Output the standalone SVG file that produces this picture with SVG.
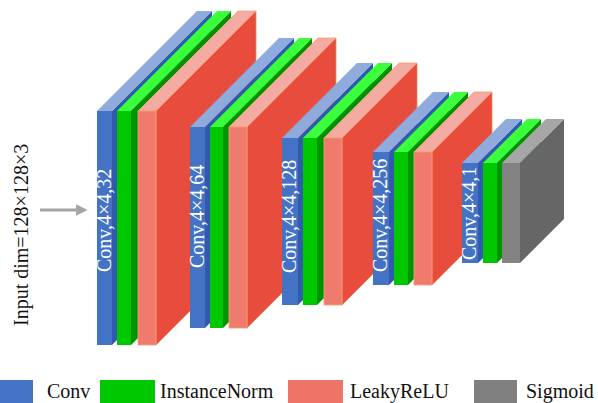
<svg xmlns="http://www.w3.org/2000/svg" width="598" height="403" viewBox="0 0 598 403">
  <defs>
    <style>
      .cf { fill: #4472C4; }
      .ct { fill: #8FAADC; }
      .cs { fill: #2F5AAE; }
      .nf { fill: #00C800; }
      .nt { fill: #3CFF3C; }
      .ns { fill: #009400; }
      .lf { fill: #F07A6E; stroke: #F4A070; stroke-width: 0.8; }
      .lt { fill: #F4ACA2; stroke: #F4A070; stroke-width: 0.8; }
      .ls { fill: #E84C3D; stroke: #F08A50; stroke-width: 0.8; }
      .sf { fill: #838383; }
      .st { fill: #A6A6A6; }
      .ss { fill: #666666; }
      .lbl { font-family: "Liberation Serif", "Times New Roman", serif; font-size: 20px; fill: #FFFFFF; }
      .txt { font-family: "Liberation Serif", "Times New Roman", serif; font-size: 20px; fill: #111111; }
    </style>
    <marker id="head" viewBox="0 0 10 10" refX="2" refY="5" markerWidth="4" markerHeight="4" orient="auto" markerUnits="strokeWidth">
      <path d="M0,0 L10,5 L0,10 Z" fill="#A5A5A5"/>
    </marker>
  </defs>

  <rect width="598" height="403" fill="#FFFFFF"/>

  <!-- input label -->
  <text class="txt" font-size="24" transform="translate(28,326) rotate(-90)">Input dim=128×128×3</text>

  <!-- connectors -->
  <g id="connectors">
    <line x1="40" y1="210" x2="78" y2="210" stroke="#A5A5A5" stroke-width="3" marker-end="url(#head)"/>
  </g>

  <!-- block 1 -->
  <g id="block1">
    <polygon class="cs" points="112,111 212,11 212,245 112,345"/>
    <polygon class="ct" points="97,111 112,111 212,11 197,11"/>
    <rect class="cf" x="97" y="111" width="15" height="234"/>
    <polygon class="ns" points="131,111 231,11 231,245 131,345"/>
    <polygon class="nt" points="117,111 131,111 231,11 217,11"/>
    <rect class="nf" x="117" y="111" width="14" height="234"/>
    <polygon class="ls" points="156,111 256,11 256,245 156,345"/>
    <polygon class="lt" points="138,111 156,111 256,11 238,11"/>
    <rect class="lf" x="138" y="111" width="18" height="234"/>
    <text class="lbl" transform="translate(111,272) rotate(-90)">Conv,4×4,32</text>
  </g>

  <!-- block 2 -->
  <g id="block2">
    <polygon class="cs" points="205,127 294,38 294,239 205,328"/>
    <polygon class="ct" points="190,127 205,127 294,38 279,38"/>
    <rect class="cf" x="190" y="127" width="15" height="201"/>
    <polygon class="ns" points="223,127 312,38 312,239 223,328"/>
    <polygon class="nt" points="210,127 223,127 312,38 299,38"/>
    <rect class="nf" x="210" y="127" width="13" height="201"/>
    <polygon class="ls" points="247,127 336,38 336,239 247,328"/>
    <polygon class="lt" points="229,127 247,127 336,38 318,38"/>
    <rect class="lf" x="229" y="127" width="18" height="201"/>
    <text class="lbl" transform="translate(204,268) rotate(-90)">Conv,4×4,64</text>
  </g>

  <!-- block 3 -->
  <g id="block3">
    <polygon class="cs" points="298,138 373,63 373,230 298,305"/>
    <polygon class="ct" points="282,138 298,138 373,63 357,63"/>
    <rect class="cf" x="282" y="138" width="16" height="167"/>
    <polygon class="ns" points="317,138 392,63 392,230 317,305"/>
    <polygon class="nt" points="303,138 317,138 392,63 378,63"/>
    <rect class="nf" x="303" y="138" width="14" height="167"/>
    <polygon class="ls" points="342,138 417,63 417,230 342,305"/>
    <polygon class="lt" points="324,138 342,138 417,63 399,63"/>
    <rect class="lf" x="324" y="138" width="18" height="167"/>
    <text class="lbl" transform="translate(296,273) rotate(-90)">Conv,4×4,128</text>
  </g>

  <!-- block 4 -->
  <g id="block4">
    <polygon class="cs" points="389,152 449,92 449,225 389,285"/>
    <polygon class="ct" points="373,152 389,152 449,92 433,92"/>
    <rect class="cf" x="373" y="152" width="16" height="133"/>
    <polygon class="ns" points="408,152 468,92 468,225 408,285"/>
    <polygon class="nt" points="394,152 408,152 468,92 454,92"/>
    <rect class="nf" x="394" y="152" width="14" height="133"/>
    <polygon class="ls" points="432,152 492,92 492,225 432,285"/>
    <polygon class="lt" points="414,152 432,152 492,92 474,92"/>
    <rect class="lf" x="414" y="152" width="18" height="133"/>
    <text class="lbl" transform="translate(387,272) rotate(-90)">Conv,4×4,256</text>
  </g>

  <!-- block 5 -->
  <g id="block5">
    <polygon class="cs" points="478,163 522,119 522,219 478,263"/>
    <polygon class="ct" points="462,163 478,163 522,119 506,119"/>
    <rect class="cf" x="462" y="163" width="16" height="100"/>
    <polygon class="ns" points="497,163 541,119 541,219 497,263"/>
    <polygon class="nt" points="483,163 497,163 541,119 527,119"/>
    <rect class="nf" x="483" y="163" width="14" height="100"/>
    <polygon class="ss" points="520,163 564,119 564,219 520,263"/>
    <polygon class="st" points="502,163 520,163 564,119 546,119"/>
    <rect class="sf" x="502" y="163" width="18" height="100"/>
    <text class="lbl" transform="translate(476,260) rotate(-90)">Conv,4×4,1</text>
  </g>

  <!-- legend -->
  <g id="legend">
    <rect x="0" y="380" width="33" height="23" fill="#4472C4"/>
    <text class="txt" x="47" y="398">Conv</text>
    <rect x="100" y="380" width="55" height="23" fill="#00C800"/>
    <text class="txt" x="160" y="398">InstanceNorm</text>
    <rect x="288" y="380" width="55" height="23" fill="#EE7468"/>
    <text class="txt" x="350" y="398">LeakyReLU</text>
    <rect x="474" y="380" width="43" height="23" fill="#808080"/>
    <text class="txt" x="526" y="398">Sigmoid</text>
  </g>
</svg>
